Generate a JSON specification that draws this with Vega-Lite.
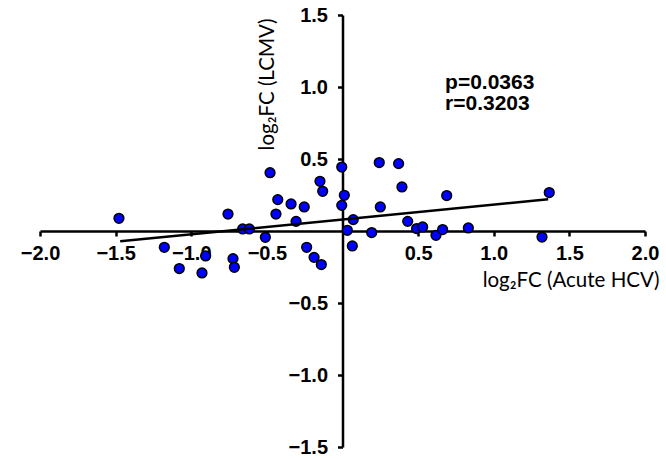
{
  "$schema": "https://vega.github.io/schema/vega-lite/v6.json",
  "width": 605,
  "height": 432,
  "autosize": {"type": "none"},
  "padding": {"left": 40, "top": 15, "right": 21, "bottom": 12},
  "background": "white",
  "config": {"view": {"stroke": null}},
  "datasets": {
    "pts": [
      {"x": -1.478, "y": 0.088}, {"x": -0.757, "y": 0.118}, {"x": -0.66, "y": 0.014}, {"x": -0.616, "y": 0.014},
      {"x": -0.51, "y": -0.044}, {"x": -0.479, "y": 0.405}, {"x": -0.44, "y": 0.118}, {"x": -0.428, "y": 0.218},
      {"x": -0.34, "y": 0.188}, {"x": -0.253, "y": 0.167}, {"x": -0.307, "y": 0.067}, {"x": -0.149, "y": 0.345},
      {"x": -0.131, "y": 0.276}, {"x": -1.178, "y": -0.113}, {"x": -0.905, "y": -0.173}, {"x": -1.079, "y": -0.261},
      {"x": -0.929, "y": -0.291}, {"x": -0.724, "y": -0.192}, {"x": -0.715, "y": -0.252}, {"x": -0.237, "y": -0.113},
      {"x": -0.188, "y": -0.183}, {"x": -0.14, "y": -0.233}, {"x": -0.005, "y": 0.444}, {"x": 0.012, "y": 0.248},
      {"x": -0.005, "y": 0.178}, {"x": 0.071, "y": 0.079}, {"x": 0.032, "y": 0.005}, {"x": 0.065, "y": -0.104},
      {"x": 0.193, "y": -0.011}, {"x": 0.243, "y": 0.475}, {"x": 0.371, "y": 0.468}, {"x": 0.393, "y": 0.306},
      {"x": 0.25, "y": 0.167}, {"x": 0.431, "y": 0.067}, {"x": 0.49, "y": 0.017}, {"x": 0.53, "y": 0.028},
      {"x": 0.618, "y": -0.03}, {"x": 0.662, "y": 0.01}, {"x": 0.689, "y": 0.246}, {"x": 0.832, "y": 0.021},
      {"x": 1.319, "y": -0.042}, {"x": 1.367, "y": 0.267}
    ],
    "fit": [{"x": -1.47, "y": -0.072}, {"x": 1.36, "y": 0.22}],
    "notes": [{"label": "p=0.0363", "x": 0.678, "y": 0.989}, {"label": "r=0.3203", "x": 0.678, "y": 0.838}]
  },
  "layer": [
    {
      "data": {"name": "pts"},
      "mark": {"type": "point", "shape": "circle", "filled": true, "fill": "#0000FF", "stroke": "black", "strokeWidth": 1.5, "size": 95, "opacity": 1},
      "encoding": {
        "x": {
          "field": "x", "type": "quantitative",
          "scale": {"domain": [-2, 2], "nice": false, "zero": false},
          "axis": {
            "orient": "bottom", "offset": -216, "values": [-2, -1.5, -1, -0.5, 0.5, 1, 1.5, 2],
            "format": ".1f", "grid": false,
            "domainColor": "black", "domainWidth": 2.5, "tickColor": "black", "tickWidth": 2.5, "tickSize": 5,
            "labelFont": "Liberation Sans", "labelFontWeight": "bold", "labelFontSize": 20, "labelColor": "black",
            "labelPadding": 7, "labelFlush": false, "labelOverlap": false,
            "title": "log₂FC (Acute HCV)", "titleFont": "Lato", "titleFontWeight": "normal", "titleFontSize": 20.5,
            "titleColor": "black", "titleAlign": "right", "titleAnchor": null, "titleBaseline": "alphabetic",
            "titleX": 619, "titleY": 55
          }
        },
        "y": {
          "field": "y", "type": "quantitative",
          "scale": {"domain": [-1.5, 1.5], "nice": false, "zero": false},
          "axis": {
            "orient": "left", "offset": -302.5, "values": [-1.5, -1, -0.5, 0.5, 1, 1.5],
            "format": ".1f", "grid": false,
            "domainColor": "black", "domainWidth": 2.5, "tickColor": "black", "tickWidth": 2.5, "tickSize": 5,
            "labelFont": "Liberation Sans", "labelFontWeight": "bold", "labelFontSize": 20, "labelColor": "black",
            "labelPadding": 10, "labelFlush": false, "labelOverlap": false,
            "title": "log₂FC (LCMV)", "titleFont": "Lato", "titleFontWeight": "normal", "titleFontSize": 20.5,
            "titleColor": "black", "titleAngle": 270, "titleAlign": "center", "titleAnchor": null, "titleBaseline": "alphabetic",
            "titleX": -69, "titleY": 69
          }
        }
      }
    },
    {
      "data": {"name": "fit"},
      "mark": {"type": "line", "color": "black", "strokeWidth": 2.5},
      "encoding": {
        "x": {"field": "x", "type": "quantitative"},
        "y": {"field": "y", "type": "quantitative"}
      }
    },
    {
      "data": {"name": "notes"},
      "mark": {"type": "text", "align": "left", "baseline": "alphabetic", "font": "Liberation Sans", "fontWeight": "bold", "fontSize": 21, "color": "black"},
      "encoding": {
        "x": {"field": "x", "type": "quantitative"},
        "y": {"field": "y", "type": "quantitative"},
        "text": {"field": "label"}
      }
    }
  ]
}
